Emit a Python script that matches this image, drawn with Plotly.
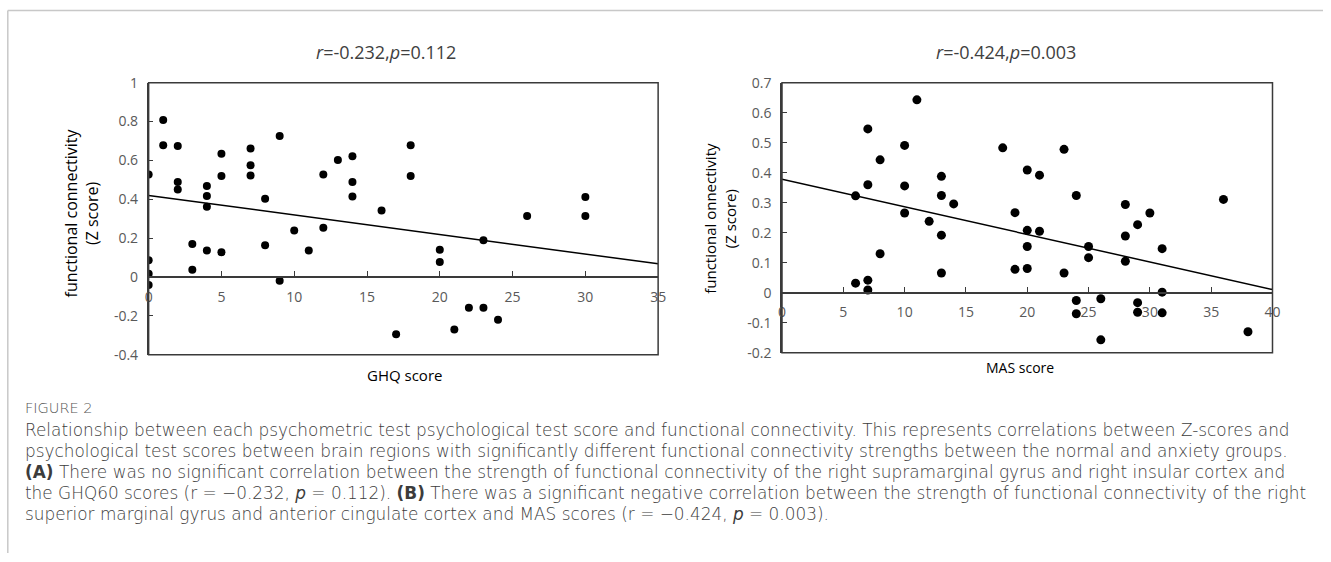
import plotly.graph_objects as go

# ---------------- data ----------------
# Panel A: GHQ score vs functional connectivity (Z score)
ghq_x = [0, 0, 0, 0, 1, 1, 2, 2, 2, 3, 3, 4, 4, 4, 4, 5, 5, 5, 7, 7, 7, 8, 8, 9, 9,
         10, 11, 12, 12, 13, 14, 14, 14, 16, 17, 18, 18, 20, 20, 21, 22, 23, 23, 24,
         26, 30, 30]
ghq_y = [0.528, 0.086, 0.017, -0.041, 0.808, 0.678, 0.674, 0.489, 0.451, 0.170,
         0.038, 0.468, 0.417, 0.362, 0.137, 0.635, 0.520, 0.127, 0.662, 0.575,
         0.523, 0.403, 0.163, 0.726, -0.019, 0.240, 0.136, 0.528, 0.254, 0.602,
         0.621, 0.489, 0.415, 0.343, -0.295, 0.678, 0.520, 0.141, 0.077, -0.270,
         -0.158, 0.189, -0.158, -0.220, 0.314, 0.412, 0.314]
ghq_fit_intercept = 0.420
ghq_fit_slope = -0.01006
ghq_fit_x = [0, 35]

# Panel B: MAS score vs functional connectivity (Z score)
mas_x = [6, 6, 7, 7, 7, 7, 8, 8, 10, 10, 10, 11, 12, 13, 13, 13, 13, 14, 18, 19, 19,
         20, 20, 20, 20, 21, 21, 23, 23, 24, 24, 24, 25, 25, 26, 26, 28, 28, 28, 29,
         29, 29, 30, 31, 31, 31, 36, 38]
mas_y = [0.323, 0.032, 0.546, 0.360, 0.042, 0.009, 0.443, 0.130, 0.491, 0.356,
         0.266, 0.643, 0.238, 0.388, 0.324, 0.192, 0.066, 0.296, 0.483, 0.267,
         0.078, 0.409, 0.208, 0.154, 0.081, 0.392, 0.205, 0.478, 0.066, 0.324,
         -0.026, -0.070, 0.154, 0.117, -0.020, -0.157, 0.294, 0.189, 0.105, 0.227,
         -0.033, -0.065, 0.266, 0.147, 0.002, -0.067, 0.311, -0.130]
mas_fit_intercept = 0.378
mas_fit_slope = -0.00918
mas_fit_x = [0, 40]

# axis ticks / labels
ghq_xticks = [0, 5, 10, 15, 20, 25, 30, 35]
ghq_yticks = [1, 0.8, 0.6, 0.4, 0.2, 0, -0.2, -0.4]
ghq_yticktext = ["1", "0.8", "0.6", "0.4", "0.2", "0", "-0.2", "-0.4"]
mas_xticks = [0, 5, 10, 15, 20, 25, 30, 35, 40]
mas_yticks = [0.7, 0.6, 0.5, 0.4, 0.3, 0.2, 0.1, 0, -0.1, -0.2]
mas_yticktext = ["0.7", "0.6", "0.5", "0.4", "0.3", "0.2", "0.1", "0", "-0.1", "-0.2"]

title_a = "<i>r</i>=-0.232,<i>p</i>=0.112"
title_b = "<i>r</i>=-0.424,<i>p</i>=0.003"
xlabel_a = "GHQ score"
xlabel_b = "MAS score"
ylabel_a = "functional connectivity<br>(Z score)"
ylabel_b = "functional onnectivity<br>(Z score)"

caption_head = "FIGURE 2"
caption_lines = [
    "Relationship between each psychometric test psychological test score and functional connectivity. This represents correlations between Z-scores and",
    "psychological test scores between brain regions with significantly different functional connectivity strengths between the normal and anxiety groups.",
    "<b>(A)</b> There was no significant correlation between the strength of functional connectivity of the right supramarginal gyrus and right insular cortex and",
    "the GHQ60 scores (r = \u22120.232, <i>p</i> = 0.112). <b>(B)</b> There was a significant negative correlation between the strength of functional connectivity of the right",
    "superior marginal gyrus and anterior cingulate cortex and MAS scores (r = \u22120.424, <i>p</i> = 0.003).",
]

# ---------------- layout geometry ----------------
W, H = 1331, 562
# the captured page maps figure pixels slightly (offset + scale); compensate
OFF_X, SC_X = 3.2, 0.992
OFF_Y, SC_Y = 10.3, 0.966

def px_x(p):
    return ((p - OFF_X) / SC_X) / W

def px_y(p):
    return 1 - ((p - OFF_Y) / SC_Y) / H

dom_xa = [px_x(148), px_x(658)]
dom_ya = [px_y(355), px_y(83)]
dom_xb = [px_x(782), px_x(1273)]
dom_yb = [px_y(353), px_y(83)]
range_xa = [0, 35]
range_ya = [-0.4, 1.0]
range_xb = [0, 40]
range_yb = [-0.2, 0.7]

def zero_pos(dom, rng):
    return dom[0] + (0 - rng[0]) / (rng[1] - rng[0]) * (dom[1] - dom[0])

CHART_FONT = "Open Sans"
CAPTION_FONT = "DejaVu Sans"
TICK_COL = "#595959"
AX_COL = "#3a3a3a"

fig = go.Figure()

# Panel A
fig.add_trace(go.Scatter(x=ghq_x, y=ghq_y, mode="markers",
                         marker=dict(color="black", size=8),
                         xaxis="x", yaxis="y", showlegend=False))
fig.add_trace(go.Scatter(x=ghq_fit_x,
                         y=[ghq_fit_intercept + ghq_fit_slope * v for v in ghq_fit_x],
                         mode="lines", line=dict(color="black", width=1.5),
                         xaxis="x", yaxis="y", showlegend=False))
# Panel B
fig.add_trace(go.Scatter(x=mas_x, y=mas_y, mode="markers",
                         marker=dict(color="black", size=9),
                         xaxis="x2", yaxis="y2", showlegend=False))
fig.add_trace(go.Scatter(x=mas_fit_x,
                         y=[mas_fit_intercept + mas_fit_slope * v for v in mas_fit_x],
                         mode="lines", line=dict(color="black", width=1.5),
                         xaxis="x2", yaxis="y2", showlegend=False))

xaxis_common = dict(showgrid=False, zeroline=False, showline=True, linecolor=AX_COL,
                    linewidth=1.5, ticks="inside", ticklen=5, tickcolor=AX_COL,
                    tickwidth=1.2, anchor="free", ticklabelstandoff=7,
                    tickfont=dict(family=CHART_FONT, size=14, color=TICK_COL))
yaxis_common = dict(showgrid=False, zeroline=False, showline=True, linecolor=AX_COL,
                    linewidth=1.5, ticks="inside", ticklen=5, tickcolor=AX_COL,
                    tickwidth=1.2, ticklabelstandoff=6,
                    tickfont=dict(family=CHART_FONT, size=14, color=TICK_COL))

fig.update_layout(
    width=W, height=H,
    margin=dict(l=0, r=0, t=0, b=0),
    paper_bgcolor="white", plot_bgcolor="white",
    xaxis=dict(domain=dom_xa, range=range_xa, tickvals=ghq_xticks,
               position=zero_pos(dom_ya, range_ya), **xaxis_common),
    yaxis=dict(domain=dom_ya, range=range_ya, tickvals=ghq_yticks,
               ticktext=ghq_yticktext, anchor="x", **yaxis_common),
    xaxis2=dict(domain=dom_xb, range=range_xb, tickvals=mas_xticks,
                position=zero_pos(dom_yb, range_yb), **xaxis_common),
    yaxis2=dict(domain=dom_yb, range=range_yb, tickvals=mas_yticks,
                ticktext=mas_yticktext, anchor="x2", **yaxis_common),
)

# frames around the plot areas
for xr, yr in (("x domain", "y domain"), ("x2 domain", "y2 domain")):
    fig.add_shape(type="rect", xref=xr, yref=yr, x0=0, x1=1, y0=0, y1=1,
                  line=dict(color=AX_COL, width=1.5), layer="above")

# page border lines (gray)
fig.add_shape(type="line", xref="paper", yref="paper", x0=px_x(7), x1=px_x(7),
              y0=0, y1=0.999, line=dict(color="#c8c8c8", width=1.5))
fig.add_shape(type="line", xref="paper", yref="paper", x0=px_x(7), x1=1,
              y0=0.999, y1=0.999, line=dict(color="#c8c8c8", width=1.5))

ann = []
# titles
ann.append(dict(text=title_a, x=px_x(386), y=px_y(52), xref="paper", yref="paper",
                showarrow=False, xanchor="center", yanchor="middle",
                font=dict(family=CHART_FONT, size=18, color="#404040")))
ann.append(dict(text=title_b, x=px_x(1006), y=px_y(52), xref="paper", yref="paper",
                showarrow=False, xanchor="center", yanchor="middle",
                font=dict(family=CHART_FONT, size=18, color="#404040")))
# x axis titles
ann.append(dict(text=xlabel_a, x=px_x(404), y=px_y(375), xref="paper", yref="paper",
                showarrow=False, xanchor="center", yanchor="middle",
                font=dict(family=CHART_FONT, size=15, color="#000000")))
ann.append(dict(text=xlabel_b, x=px_x(1020), y=px_y(368), xref="paper", yref="paper",
                showarrow=False, xanchor="center", yanchor="middle",
                font=dict(family=CHART_FONT, size=14, color="#000000")))
# y axis titles
ann.append(dict(text=ylabel_a, x=px_x(81), y=px_y(213), xref="paper", yref="paper",
                showarrow=False, xanchor="center", yanchor="middle", textangle=-90,
                font=dict(family=CHART_FONT, size=16, color="#000000")))
ann.append(dict(text=ylabel_b, x=px_x(720), y=px_y(219), xref="paper", yref="paper",
                showarrow=False, xanchor="center", yanchor="middle", textangle=-90,
                font=dict(family=CHART_FONT, size=15, color="#000000")))
# caption
ann.append(dict(text=caption_head, x=px_x(22), y=px_y(408), xref="paper", yref="paper",
                showarrow=False, xanchor="left", yanchor="middle",
                font=dict(family=CAPTION_FONT, size=14.5, color="#555555", weight=300)))
for i, line in enumerate(caption_lines):
    ann.append(dict(text=line, x=px_x(22), y=px_y(430 + 21 * i), xref="paper",
                    yref="paper", showarrow=False, xanchor="left", yanchor="middle",
                    font=dict(family=CAPTION_FONT, size=16.9, color="#3c3c3c",
                              weight=300)))
fig.update_layout(annotations=ann)

post = (
    "document.documentElement.style.margin='0';"
    "document.body.style.margin='0';"
    "document.body.style.overflow='hidden';"
)
fig.write_html("out.html", config={"displayModeBar": False}, post_script=post)
